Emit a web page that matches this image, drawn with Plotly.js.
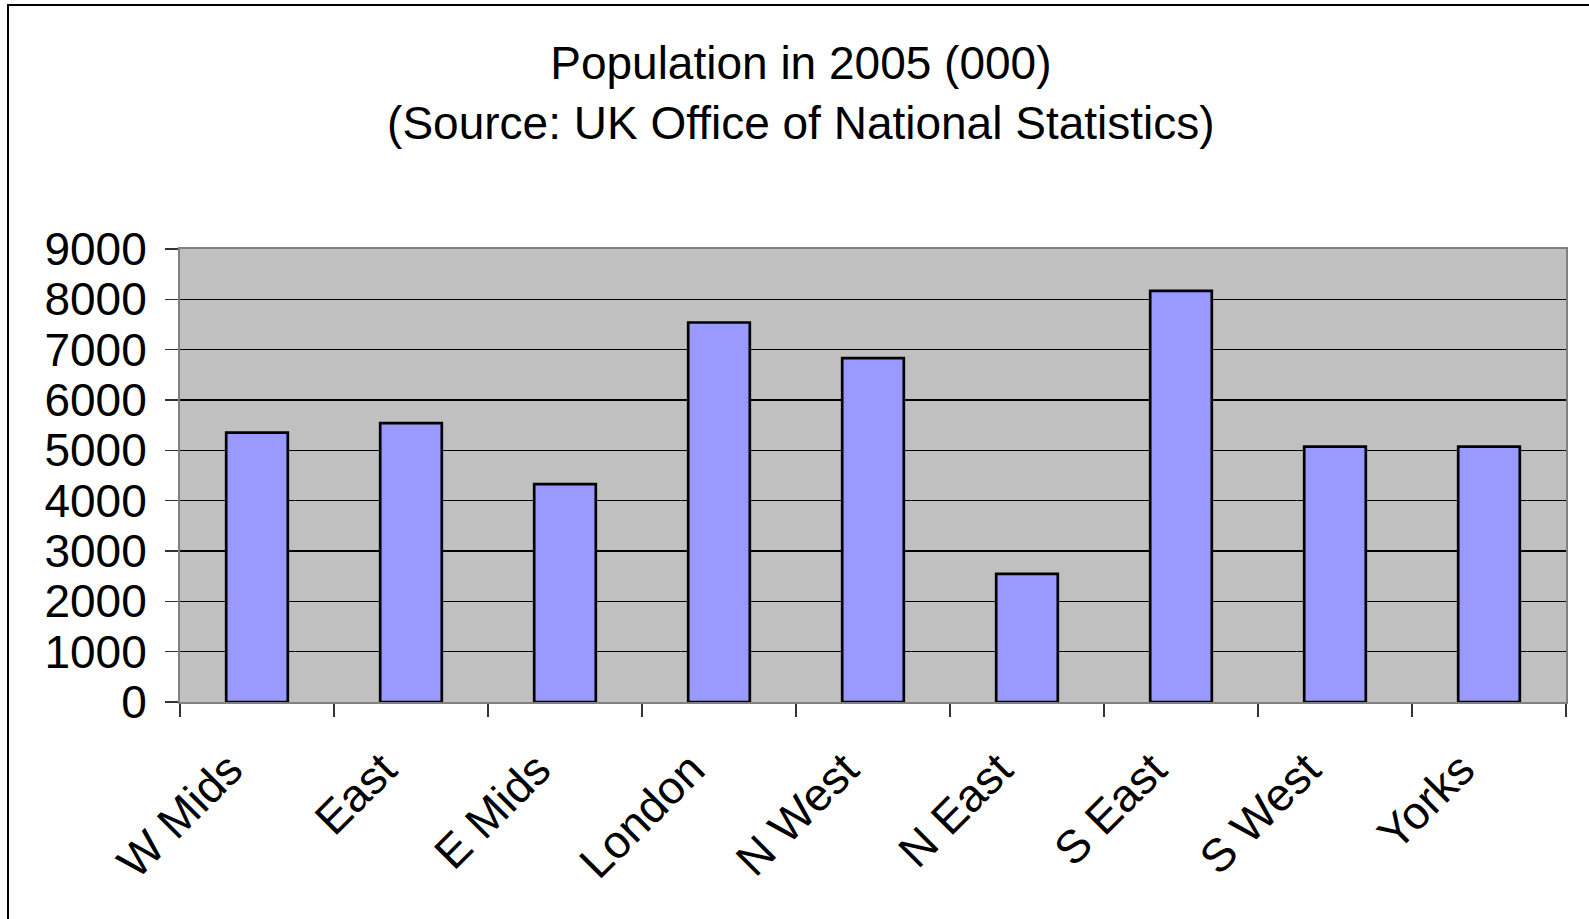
<!DOCTYPE html>
<html>
<head>
<meta charset="utf-8">
<script src="https://cdn.plot.ly/plotly-3.0.1.min.js"></script>
<style>
  html, body { margin: 0; padding: 0; overflow: hidden; background: #fff; }
  #chart { width: 1589px; height: 919px; }
  #frame { position: absolute; left: 7px; top: 4px; width: 2000px; height: 2000px;
           border: 2px solid #000; pointer-events: none; box-sizing: border-box; }
</style>
</head>
<body>
<div id="chart"></div>
<div id="frame"></div>
<script>
// English regions and their 2005 population, in thousands
const regions = ["W Mids", "East", "E Mids", "London", "N West", "N East", "S East", "S West", "Yorks"];
const population = [5350, 5540, 4330, 7540, 6830, 2545, 8170, 5075, 5075];
const yTicks = [0, 1000, 2000, 3000, 4000, 5000, 6000, 7000, 8000, 9000];

const fontFamily = "Liberation Sans, Arial, sans-serif";
const textSize = 46;

const trace = {
  type: "bar",
  x: regions,
  y: population,
  marker: { color: "#9999FF", line: { color: "#000000", width: 2.7 } },
  hoverinfo: "x+y"
};

const layout = {
  width: 1589,
  height: 919,
  paper_bgcolor: "#ffffff",
  plot_bgcolor: "#C0C0C0",
  margin: { l: 180, r: 23, t: 248.5, b: 216.5, pad: 0 },
  bargap: 0.6,
  showlegend: false,
  font: { family: fontFamily, color: "#000000", size: textSize },
  title: {
    text: "Population in 2005 (000)<br>(Source: UK Office of National Statistics)",
    font: { family: fontFamily, size: textSize, color: "#000000" },
    xref: "container", x: 0.504, xanchor: "center",
    yref: "container", y: 1 - 79 / 919, yanchor: "top"
  },
  xaxis: {
    type: "category",
    tickangle: -45,
    tickson: "boundaries",
    ticks: "outside",
    ticklen: 13,
    tickwidth: 1.3,
    tickcolor: "#333333",
    showline: true,
    linecolor: "#808080",
    linewidth: 2,
    mirror: true,
    showgrid: false,
    ticklabelstandoff: 20,
    ticklabelshift: -28,
    tickfont: { family: fontFamily, size: textSize, color: "#000000" }
  },
  yaxis: {
    range: [0, 9000],
    tickvals: yTicks,
    ticktext: yTicks.map(String),
    ticks: "outside",
    ticklen: 13,
    tickwidth: 1.3,
    tickcolor: "#333333",
    showline: true,
    linecolor: "#808080",
    linewidth: 2,
    mirror: true,
    showgrid: true,
    gridcolor: "#000000",
    gridwidth: 1.4,
    zeroline: false,
    ticklabelstandoff: 9,
    tickfont: { family: fontFamily, size: textSize, color: "#000000" }
  }
};

Plotly.newPlot("chart", [trace], layout, { staticPlot: true, displayModeBar: false });
</script>
</body>
</html>
